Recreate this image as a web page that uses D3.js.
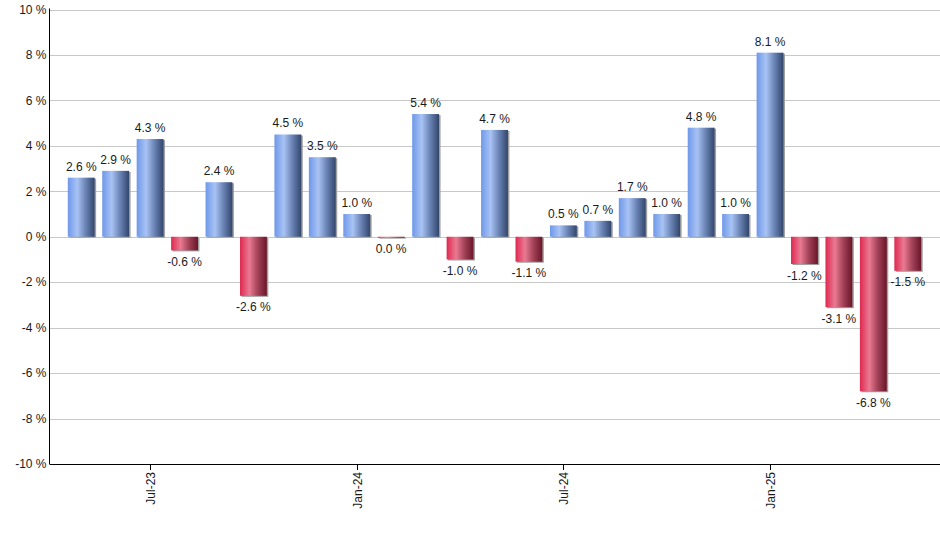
<!DOCTYPE html>
<html lang="en">
<head>
<meta charset="UTF-8">
<title>Monthly returns</title>
<script src="https://cdn.jsdelivr.net/npm/d3@7"></script>
<style>
  body { margin: 0; background: #fff; font-family: "Liberation Sans", Arial, sans-serif; }
  .grid line { stroke: #c8c8c8; stroke-width: 1; }
  .lbl { font-size: 12px; fill: #1a1a1a; }
  .axis text { font-size: 12px; fill: #1a1a1a; }
</style>
</head>
<body>
<svg id="chart" width="940" height="550"></svg>
<script>
// months shown (May-23 .. May-25)
let months = ['May-23','Jun-23','Jul-23','Aug-23','Sep-23','Oct-23','Nov-23','Dec-23',
  'Jan-24','Feb-24','Mar-24','Apr-24','May-24','Jun-24','Jul-24','Aug-24','Sep-24','Oct-24',
  'Nov-24','Dec-24','Jan-25','Feb-25','Mar-25','Apr-25','May-25']
let returns = [2.6, 2.9, 4.3, -0.6, 2.4, -2.6, 4.5, 3.5, 1.0, -0.04, 5.4, -1.0, 4.7, -1.1,
  0.5, 0.7, 1.7, 1.0, 4.8, 1.0, 8.1, -1.2, -3.1, -6.8, -1.5]
let xTickLabels = ['Jul-23', 'Jan-24', 'Jul-24', 'Jan-25']
let yTicks = [-10, -8, -6, -4, -2, 0, 2, 4, 6, 8, 10]

let svg = d3.select('#chart')
let mLeft = 49.5, mRight = 940, mTop = 9.5, mBottom = 464

let x = d3.scaleBand().domain(months).range([64, 925]).paddingInner(0.22).paddingOuter(0.11)
let y = d3.scaleLinear().domain([-10, 10]).range([mBottom, mTop])

// gradients
let defs = svg.append('defs')
function grad(id, stops) {
  let g = defs.append('linearGradient').attr('id', id)
    .attr('x1', '0%').attr('x2', '100%').attr('y1', '0%').attr('y2', '0%')
  stops.forEach(s => g.append('stop').attr('offset', s[0]).attr('stop-color', s[1]))
}
grad('blue', [['0%', '#6f98ea'], ['35%', '#a8c3f4'], ['65%', '#6c86b8'], ['100%', '#32466c']])
grad('red', [['0%', '#df2850'], ['35%', '#e97a92'], ['65%', '#a5445a'], ['100%', '#6a1528']])

// grid
svg.append('g').attr('class', 'grid')
  .selectAll('line').data(yTicks).join('line')
  .attr('x1', mLeft).attr('x2', mRight)
  .attr('y1', d => Math.round(y(d)) + 0.5).attr('y2', d => Math.round(y(d)) + 0.5)

// bars
let bars = svg.append('g')
returns.forEach(function (v, i) {
  let bx = x(months[i]), bw = x.bandwidth()
  let y0 = y(Math.max(0, v)), h = Math.abs(y(v) - y(0))
  bars.append('rect').attr('x', bx + 1.5).attr('y', y0 + 1).attr('width', bw).attr('height', h)
    .attr('fill', '#a0a0a0')
  bars.append('rect').attr('x', bx).attr('y', y0).attr('width', bw).attr('height', Math.max(h, 1))
    .attr('fill', v >= 0 ? 'url(#blue)' : 'url(#red)')
})

// value labels
svg.append('g').selectAll('text').data(returns).join('text')
  .attr('class', 'lbl')
  .attr('text-anchor', 'middle')
  .attr('x', (d, i) => x(months[i]) + x.bandwidth() / 2)
  .attr('y', d => d >= 0 ? y(d) - 7 : y(d) + 15.5)
  .text(d => d.toFixed(1).replace('-0.0', '0.0') + ' %')

// y axis
let yAxis = svg.append('g').attr('class', 'axis')
yAxis.append('line').attr('x1', mLeft).attr('x2', mLeft).attr('y1', mTop - 1).attr('y2', mBottom)
  .attr('stroke', '#000')
yAxis.selectAll('text').data(yTicks).join('text')
  .attr('x', mLeft - 3).attr('y', d => y(d)).attr('dy', '0.35em')
  .attr('text-anchor', 'end').text(d => d + ' %')

// x axis
let xAxis = svg.append('g').attr('class', 'axis')
xAxis.append('line').attr('x1', mLeft).attr('x2', mRight).attr('y1', mBottom + 0.5).attr('y2', mBottom + 0.5)
  .attr('stroke', '#000')
let tk = xAxis.selectAll('g.tk').data(xTickLabels).join('g').attr('class', 'tk')
  .attr('transform', d => `translate(${Math.round(x(d) + x.bandwidth() / 2) + 0.5},${mBottom})`)
tk.append('line').attr('y1', 0).attr('y2', 6).attr('stroke', '#000')
tk.append('text').attr('transform', 'rotate(-90)')
  .attr('x', -8).attr('dy', '0.35em').attr('text-anchor', 'end').text(d => d)
</script>
</body>
</html>
